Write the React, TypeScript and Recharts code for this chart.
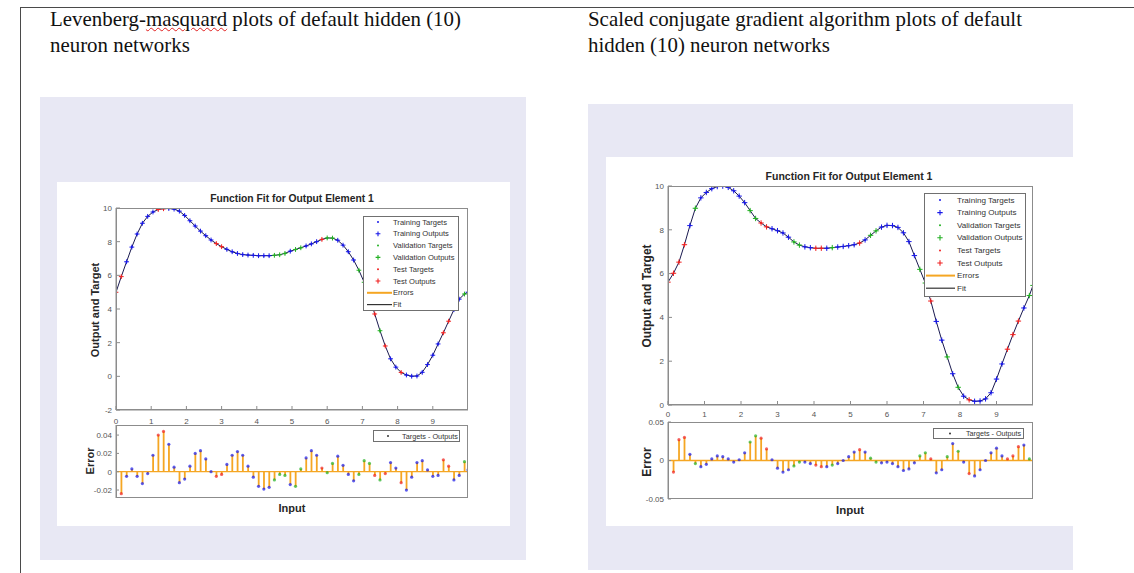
import { Bar, ComposedChart, Line, ReferenceLine, XAxis, YAxis } from "recharts"

// network inputs (same for both fits)
const inputs = [
  0, 0.15, 0.3, 0.45, 0.6, 0.75, 0.9, 1.05, 1.2, 1.35, 1.5, 1.65, 1.8, 1.95, 2.1, 2.25, 2.4, 2.55, 2.7, 2.85,
  3, 3.15, 3.3, 3.45, 3.6, 3.75, 3.9, 4.05, 4.2, 4.35, 4.5, 4.65, 4.8, 4.95, 5.1, 5.25, 5.4, 5.55, 5.7, 5.85,
  6, 6.15, 6.3, 6.45, 6.6, 6.75, 6.9, 7.05, 7.2, 7.35, 7.5, 7.65, 7.8, 7.95, 8.1, 8.25, 8.4, 8.55, 8.7, 8.85,
  9, 9.15, 9.3, 9.45, 9.6, 9.75, 9.9, 10,
]

// Levenberg-Marquardt
const lmTargets = [
  5.05, 5.9, 6.8, 7.68, 8.45, 9.08, 9.5, 9.78, 9.95, 10.0,
  10.0, 9.94, 9.8, 9.55, 9.25, 8.95, 8.65, 8.37, 8.1, 7.88,
  7.7, 7.55, 7.42, 7.32, 7.25, 7.21, 7.18, 7.15, 7.15, 7.15,
  7.18, 7.22, 7.3, 7.42, 7.52, 7.64, 7.76, 7.89, 8.02, 8.14,
  8.22, 8.22, 8.1, 7.8, 7.4, 6.9, 6.3, 5.6, 4.75, 3.7,
  2.7, 1.8, 1.05, 0.55, 0.22, 0.06, 0.0, 0.03, 0.25, 0.7,
  1.25, 1.92, 2.6, 3.28, 3.95, 4.58, 4.9, 5.0,
]
const lmErrors = [
  0.055, -0.024, -0.005, 0.003, -0.005, -0.013, -0.002, 0.018, 0.04, 0.044,
  0.03, 0.005, -0.012, -0.008, 0.006, 0.02, 0.023, 0.014, 0.0, -0.005,
  -0.003, 0.008, 0.018, 0.022, 0.018, 0.006, -0.006, -0.016, -0.019, -0.017,
  -0.009, -0.003, -0.004, -0.014, -0.016, 0.003, 0.015, 0.023, 0.018, 0.004,
  -0.001, 0.009, 0.017, 0.007, -0.003, -0.01, -0.003, 0.012, 0.009, -0.004,
  -0.009, -0.002, 0.01, 0.004, -0.012, -0.02, -0.006, 0.01, 0.012, 0.002,
  -0.005, -0.004, 0.013, 0.006, -0.009, -0.004, 0.011, 0.002,
]
// T = training, V = validation, S = test
const lmSets = "SSTTTTTTSS" + "TTTTTTTTTS" + "STTTTTTTTT" + "VVVTVVTTTS" + "VVTTTTVVVS" + "VSTTSTTTTT" + "TTSSTTVT"

// Scaled conjugate gradient
const scgTargets = [
  5.55, 6.0, 6.55, 7.35, 8.2, 8.98, 9.45, 9.7, 9.88, 9.98,
  10.0, 9.94, 9.78, 9.54, 9.25, 8.9, 8.55, 8.34, 8.15, 8.05,
  7.95, 7.84, 7.65, 7.44, 7.3, 7.22, 7.18, 7.15, 7.15, 7.15,
  7.18, 7.21, 7.24, 7.28, 7.33, 7.41, 7.55, 7.75, 7.95, 8.12,
  8.2, 8.19, 8.1, 7.85, 7.45, 6.82, 6.2, 5.58, 4.75, 3.8,
  2.95, 2.2, 1.45, 0.82, 0.4, 0.22, 0.15, 0.17, 0.28, 0.57,
  1.2, 1.88, 2.55, 3.22, 3.85, 4.45, 5.0, 5.4,
]
const scgErrors = [
  -0.06, -0.015, 0.027, 0.03, 0.008, -0.004, -0.008, -0.005, 0.002, 0.006,
  0.005, 0.002, -0.002, 0.001, 0.01, 0.024, 0.032, 0.029, 0.015, 0.001,
  -0.01, -0.015, -0.012, -0.007, -0.002, -0.002, -0.004, -0.006, -0.008, -0.008,
  -0.006, -0.004, 0.0, 0.005, 0.011, 0.014, 0.011, 0.003, -0.002, -0.003,
  -0.002, -0.004, -0.008, -0.013, -0.011, -0.003, 0.006, 0.01, 0.002, -0.016,
  -0.012, 0.005, 0.022, 0.012, -0.002, -0.017, -0.02, -0.012, 0.0, 0.01,
  0.016, 0.006, 0.002, 0.006, 0.018, 0.02, 0.002, -0.06,
]
const scgSets = "SSSSTVTTTT" + "TTTTTVVSST" + "TTTVVTTSST" + "VTTTTSTVVT" + "TTTTTTVVST" + "TVTVTSTTTT" + "TTSSSTVV"

const xTicks = [0, 1, 2, 3, 4, 5, 6, 7, 8, 9]
const lmYTicks = [-2, 0, 2, 4, 6, 8, 10]
const scgYTicks = [0, 2, 4, 6, 8, 10]
const lmErrTicks = [-0.02, 0, 0.02, 0.04]
const scgErrTicks = [-0.05, 0, 0.05]

const legendItems = [
  { label: "Training Targets", set: "T", kind: "target" },
  { label: "Training Outputs", set: "T", kind: "output" },
  { label: "Validation Targets", set: "V", kind: "target" },
  { label: "Validation Outputs", set: "V", kind: "output" },
  { label: "Test Targets", set: "S", kind: "target" },
  { label: "Test Outputs", set: "S", kind: "output" },
  { label: "Errors", set: "", kind: "errors" },
  { label: "Fit", set: "", kind: "fit" },
]

const SET_COLORS: Record<string, string> = { T: "#1818e8", V: "#22b022", S: "#f02020" }
const ERR = "#f5a623"
const AXIS = "#8c8c8c"
const SANS = "'Liberation Sans', Arial, Helvetica, sans-serif"
const SERIF = "'Liberation Serif', 'Times New Roman', serif"
const LAVENDER = "#e8e8f4"

const tickStyle = { fontSize: 8, fill: "#555", fontFamily: SANS }

function buildRows(targets: number[], errors: number[], sets: string) {
  return inputs.map((x, i) => ({
    x,
    target: targets[i],
    output: targets[i] - errors[i],
    err: errors[i],
    set: sets[i],
  }))
}

function fitDot(arm: number) {
  return (p: any) => {
    const { cx, cy, payload, index } = p
    if (cx == null || cy == null) return <g key={`f${index}`} />
    const c = SET_COLORS[payload.set]
    return (
      <g key={`f${index}`}>
        <circle cx={cx} cy={cy} r={1} fill={c} />
        <path d={`M${cx - arm},${cy}H${cx + arm}M${cx},${cy - arm}V${cy + arm}`} stroke={c} strokeWidth={1} />
      </g>
    )
  }
}

function errDot(p: any) {
  const { cx, cy, payload, index } = p
  if (cx == null || cy == null) return <g key={`e${index}`} />
  return <circle key={`e${index}`} cx={cx} cy={cy} r={1.6} fill={SET_COLORS[payload.set]} fillOpacity={0.7} />
}

type Box = { x1: number; y1: number; x2: number; y2: number }

// axes box like MATLAB's, all four sides
function Frame({ box }: { box: Box }) {
  return (
    <div
      style={{
        position: "absolute", left: box.x1, top: box.y1, width: box.x2 - box.x1, height: box.y2 - box.y1,
        border: `1px solid ${AXIS}`, boxSizing: "border-box", pointerEvents: "none",
      }}
    />
  )
}

function FitChart({ rows, box, yDomain, yTicks, labelGap, arm }: any) {
  const yw = 30
  const xh = 24
  const mt = 6
  const mr = 2
  const b: Box = box
  return (
    <div style={{ position: "absolute", left: b.x1 - yw, top: b.y1 - mt }}>
      <ComposedChart
        width={b.x2 - b.x1 + yw + mr}
        height={b.y2 - b.y1 + mt + xh}
        data={rows}
        margin={{ top: mt, right: mr, bottom: 0, left: 0 }}
      >
        <XAxis dataKey="x" type="number" domain={[0, 10]} ticks={xTicks} interval={0} allowDataOverflow
          tickSize={-4} tickMargin={labelGap} height={xh} stroke={AXIS} tick={tickStyle} />
        <YAxis type="number" domain={yDomain} ticks={yTicks} interval={0} allowDataOverflow
          tickSize={-4} tickMargin={8} width={yw} stroke={AXIS} tick={tickStyle} />
        <Line dataKey="output" type="linear" stroke="#1a1a50" strokeWidth={1} dot={fitDot(arm)}
          activeDot={false} isAnimationActive={false} />
      </ComposedChart>
    </div>
  )
}

function ErrChart({ rows, box, yDomain, yTicks }: any) {
  const yw = 30
  const mt = 6
  const mb = 8
  const mr = 2
  const b: Box = box
  return (
    <div style={{ position: "absolute", left: b.x1 - yw, top: b.y1 - mt }}>
      <ComposedChart
        width={b.x2 - b.x1 + yw + mr}
        height={b.y2 - b.y1 + mt + mb}
        data={rows}
        margin={{ top: mt, right: mr, bottom: mb, left: 0 }}
      >
        <XAxis dataKey="x" type="number" domain={[0, 10]} ticks={xTicks} interval={0} allowDataOverflow
          tickSize={-3} height={0} stroke={AXIS} tick={false} />
        <YAxis type="number" domain={yDomain} ticks={yTicks} interval={0} allowDataOverflow
          tickSize={-3} tickMargin={7} width={yw} stroke={AXIS} tick={tickStyle} />
        <ReferenceLine y={0} stroke={ERR} strokeWidth={1.3} />
        <Bar dataKey="err" fill={ERR} barSize={1.8} isAnimationActive={false} />
        <Line dataKey="err" stroke="none" dot={errDot} activeDot={false} isAnimationActive={false} />
      </ComposedChart>
    </div>
  )
}

function FitLegend({ x, y, w, h, first, gap, markX, textX, lineFrom, lineTo, fs, arm }: any) {
  return (
    <svg style={{ position: "absolute", left: x, top: y }} width={w} height={h}>
      <rect x={0.5} y={0.5} width={w - 1} height={h - 1} fill="#fff" stroke="#707070" />
      {legendItems.map((it, i) => {
        const cy = first + i * gap
        const c = SET_COLORS[it.set]
        let sym = null
        if (it.kind === "target") sym = <circle cx={markX} cy={cy} r={1} fill={c} />
        if (it.kind === "output")
          sym = (
            <path d={`M${markX - arm},${cy}H${markX + arm}M${markX},${cy - arm}V${cy + arm}`} stroke={c} strokeWidth={1.1} />
          )
        if (it.kind === "errors") sym = <line x1={lineFrom} x2={lineTo} y1={cy} y2={cy} stroke={ERR} strokeWidth={2} />
        if (it.kind === "fit") sym = <line x1={lineFrom} x2={lineTo} y1={cy} y2={cy} stroke="#333" strokeWidth={1.2} />
        return (
          <g key={it.label}>
            {sym}
            <text x={textX} y={cy} dominantBaseline="central" fontSize={fs} fill="#333" fontFamily={SANS}>
              {it.label}
            </text>
          </g>
        )
      })}
    </svg>
  )
}

function ErrLegend({ x, y, w, h, dotX, textX, fs }: any) {
  return (
    <svg style={{ position: "absolute", left: x, top: y }} width={w} height={h}>
      <rect x={0.5} y={0.5} width={w - 1} height={h - 1} fill="#fff" stroke="#707070" />
      <circle cx={dotX} cy={h / 2} r={1} fill="#333" />
      <text x={textX} y={h / 2} dominantBaseline="central" fontSize={fs} fill="#333" fontFamily={SANS}>
        Targets - Outputs
      </text>
    </svg>
  )
}

const abs = (l: number, t: number, w: number, h: number, bg: string) => ({
  position: "absolute" as const, left: l, top: t, width: w, height: h, background: bg,
})

function Centered({ x, y, size, rotate, bold, children }: any) {
  return (
    <div
      style={{
        position: "absolute", left: x, top: y, whiteSpace: "nowrap", fontFamily: SANS, fontSize: size,
        fontWeight: bold ? 700 : 400, color: "#262626", lineHeight: 1,
        transform: `translate(-50%, -50%)${rotate ? " rotate(-90deg)" : ""}`,
      }}
    >
      {children}
    </div>
  )
}

export default function App() {
  const lmRows = buildRows(lmTargets, lmErrors, lmSets)
  const scgRows = buildRows(scgTargets, scgErrors, scgSets)
  const docText = { position: "absolute" as const, top: 6, fontFamily: SERIF, fontSize: 20.9, lineHeight: "26px", color: "#111", whiteSpace: "nowrap" as const }

  const lmTop = { x1: 116, y1: 208, x2: 468, y2: 410 }
  const lmErr = { x1: 116, y1: 425, x2: 468, y2: 498 }
  const scgTop = { x1: 668, y1: 186, x2: 1033, y2: 405 }
  const scgErr = { x1: 668, y1: 422, x2: 1033, y2: 499 }

  return (
    <div style={{ position: "absolute", left: 0, top: 0, width: 1134, height: 573, background: "#fff", overflow: "hidden" }}>
      {/* page border */}
      <div style={abs(20, 7, 1114, 1, "#4a4a4a")} />
      <div style={abs(20, 7, 1, 566, "#4a4a4a")} />

      <div style={{ ...docText, left: 50 }}>
        Levenberg-<span style={{ textDecoration: "underline wavy #e02020", textDecorationThickness: 1 }}>masquard</span> plots of default hidden (10)
        <br />
        neuron networks
      </div>
      <div style={{ ...docText, left: 588 }}>
        Scaled conjugate gradient algorithm plots of default
        <br />
        hidden (10) neuron networks
      </div>

      {/* figure windows */}
      <div style={abs(40, 97, 486, 463, LAVENDER)} />
      <div style={abs(57, 182, 453, 344, "#fff")} />
      <div style={abs(588, 104, 485, 466, LAVENDER)} />
      <div style={abs(606, 157, 467, 369, "#fff")} />

      {/* Levenberg-Marquardt figure */}
      <Centered x={292} y={199} size={10.3} bold>Function Fit for Output Element 1</Centered>
      <FitChart rows={lmRows} box={lmTop} yDomain={[-2, 10]} yTicks={lmYTicks} labelGap={12} arm={2.4} />
      <ErrChart rows={lmRows} box={lmErr} yDomain={[-0.0287, 0.051]} yTicks={lmErrTicks} />
      <Frame box={lmTop} />
      <Frame box={lmErr} />
      <Centered x={95} y={310} size={11} bold rotate>Output and Target</Centered>
      <Centered x={90} y={461} size={11} bold rotate>Error</Centered>
      <Centered x={292} y={508} size={11} bold>Input</Centered>
      <FitLegend x={363} y={216} w={96} h={95} first={6} gap={11.8} markX={15} textX={30} lineFrom={4} lineTo={29} fs={7.6} arm={2.4} />
      <ErrLegend x={373} y={430} w={87} h={12} dotX={15} textX={29} fs={7.3} />

      {/* Scaled conjugate gradient figure */}
      <Centered x={849} y={176} size={10.5} bold>Function Fit for Output Element 1</Centered>
      <FitChart rows={scgRows} box={scgTop} yDomain={[0, 10]} yTicks={scgYTicks} labelGap={10} arm={2.7} />
      <ErrChart rows={scgRows} box={scgErr} yDomain={[-0.05, 0.05]} yTicks={scgErrTicks} />
      <Frame box={scgTop} />
      <Frame box={scgErr} />
      <Centered x={647} y={296} size={12} bold rotate>Output and Target</Centered>
      <Centered x={647} y={462} size={12} bold rotate>Error</Centered>
      <Centered x={850} y={511} size={11.5} bold>Input</Centered>
      <FitLegend x={924} y={193} w={102} h={104} first={7} gap={12.6} markX={16} textX={33} lineFrom={2} lineTo={31} fs={8.1} arm={2.7} />
      <ErrLegend x={933} y={428} w={91} h={11} dotX={17} textX={33} fs={7.2} />
    </div>
  )
}
